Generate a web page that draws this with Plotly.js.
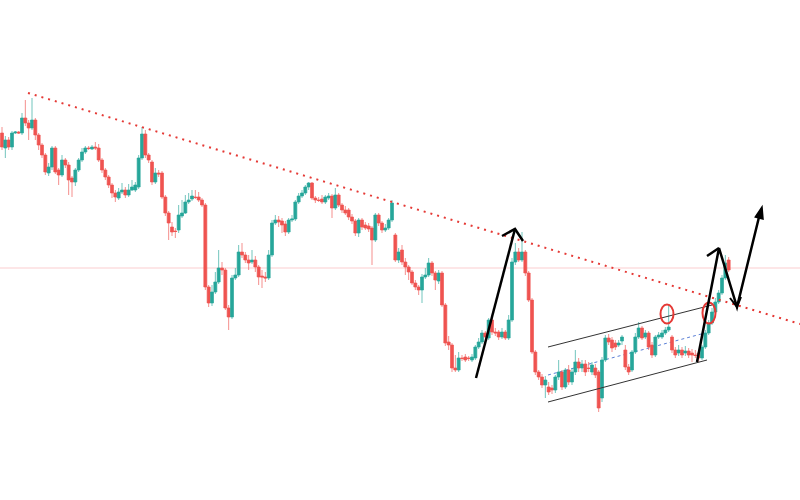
<!DOCTYPE html>
<html>
<head>
<meta charset="utf-8">
<script src="https://cdn.plot.ly/plotly-3.0.1.min.js"></script>
<style>html,body{margin:0;padding:0;background:#fff;}#chart{width:800px;height:500px;}</style>
</head>
<body>
<div id="chart"></div>
<script>
// Candle values (price units)
const openP = [367,352,360,353,367,368,367,382,377,372,380,365,355,345,327,333,352,330,325,340,335,322,318,330,340,348,352,351,353,352,340,330,323,315,307,302,308,310,305,310,310,313,342,366,345,338,318,327,327,303,287,273,269,270,284,287,298,301,303,303,300,295,213,197,208,218,232,230,192,183,222,225,248,245,240,238,240,233,224,223,222,245,277,280,279,276,268,280,281,298,304,307,313,317,302,300,301,298,302,304,292,305,295,290,290,283,279,267,280,275,274,272,260,285,277,270,272,280,265,240,250,238,233,228,217,213,210,223,225,237,227,219,227,195,158,155,132,130,142,143,142,140,142,153,158,167,162,180,168,168,163,168,162,180,238,248,240,248,227,200,148,128,123,115,113,112,110,123,128,113,130,118,128,138,132,136,132,128,132,128,102,140,162,160,157,155,159,150,133,130,148,163,172,163,167,155,145,163,163,167,170,163,150,147,150,147,149,147,145,147,142,153,167,177,188,198,207,222,240];
const closeP = [353,360,353,367,368,367,382,377,372,380,365,355,345,328,333,352,328,325,340,335,320,318,330,340,348,352,351.5,353,352,340,330,323,315,307,303,308,310,305,310,313,315,342,366,345,340,318,327,326,303,287,277,268,268.5,285,287,298,300,304,302.5,300,295,213,197,208,218,232,230,192,183,222,225,248,245,240,237,240,233,223,223,222,245,277,280,278,275,268,280,281,298,304,307,313,317,302,300,299.5,298,303,304,292,305,295,290,287,283,279,267,280,273,272,271,260,285,277,270,272,280,297,240,248,238,233,228,217,213,210,223,225,237,227,220,227,195,157,155,132,130,142,141.5,140,141.5,143,153,158,167,163,180,168,167,163,168,162,180,238,248,240,248,227,200,148,128,123,115,120,108,110,123,128,113,130,118,128,138,132,136,128,131.5,135,125,92,140,162,158,152,153,157,163,133,128,148,163,172,162,167,153,145,163,165,167,170,173,150,145,150,145,149,145,145,144.5,142,153,167,177,188,198,207,222,237,230];
const highP = [373,364,363,369,369,369,387,400,380,402,382,367,357,347,337,354,354,332,345,342,338,324,332,342,352,354,354,355,358,356,342,332,325,317,310,312,317,313,316,320,318,345,373,370,347,340,332,330,329,305,289,278,272,295,300,305,307,310,310,308,302,297,215,215,228,250,238,232,195,225,232,255,257,248,245,250,244,235,230,228,250,280,285,284,282,279,282,285,300,307,310,315,318,318,304,303,305,305,307,306,312,307,297,294,292,286,281,282,282,278,277,274,287,287,279,276,282,300,267,252,255,242,235,230,220,215,226,232,242,239,229,230,229,197,164,157,145,148,145,146,144,146,155,162,170,169,182,182,172,170,172,170,185,242,257,252,268,250,229,202,150,130,126,124,118,115,125,140,130,132,135,132,150,142,140,140,138,138,136,130,143,165,166,163,160,160,165,155,136,150,167,178,174,170,169,158,165,168,170,173,195,165,153,155,153,154,152,151,150,150,155,170,180,192,202,210,225,245,243];
const lowP = [350,342,350,350,366,366,365,374,360,370,360,350,342,325,324,330,326,315,323,332,305,303,314,328,338,346,350,350,350,338,327,320,312,302,298,300,306,302,303,309,308,311,340,342,337,315,316,323,301,284,260,264,262,267,282,286,296,299,301,298,293,210,193,194,206,216,225,190,170,181,220,223,242,237,230,236,228,215,212,218,220,243,275,273,267,264,266,278,279,296,302,305,310,300,297,298,296,296,300,282,290,293,287,285,280,276,264,263,270,270,268,235,258,274,267,268,270,278,238,237,235,225,220,215,210,205,197,221,223,224,210,216,193,154,150,128,128,128,139,138,139,138,140,151,156,160,160,165,164,160,161,160,160,178,235,238,238,224,198,146,125,120,112,102,105,106,107,120,110,111,115,115,125,128,128,124,128,125,122,88,98,138,155,148,150,153,155,130,125,128,146,161,160,161,150,142,143,161,161,165,168,147,142,144,142,144,142,138,142,138,140,151,165,175,186,196,205,220,228];
const candleIdx = openP.map((_, i) => i);

// Drawn annotations (data coordinates: candle index, price)
const trendLine = {x: [7.8, 239.4], y: [407, 176]};
const levelPrice = 232;
const channelUpper = {x: [163.8, 213.0], y: [153, 195]};
const channelLower = {x: [163.8, 211.5], y: [98, 140]};
const channelMid = {x: [163.8, 210.9], y: [125, 167]};
const circles = [
  {x0: 197.55, x1: 201.45, y0: 176.5, y1: 195.5},
  {x0: 210.15, x1: 214.05, y0: 176.5, y1: 197.5}
];
const arrow1 = [[142.2,122],[153.9,271]];
const arrow1Head = [[150,264],[153.9,271],[156.3,259]];
const arrow2 = [[208.5,138],[215.1,252],[220.5,193],[227.4,287]];
const arrow2Head = [[211.5,244],[215.1,252]];
const arrow2Down = [[218.4,202],[220.5,193],[221.7,203]];
const arrow2Top = [[226.0,283],[228.0,293],[228.3,281]];

function path(pts, close) {
  return pts.map((p, i) => (i ? 'L' : 'M') + p[0] + ',' + p[1]).join(' ') + (close ? ' Z' : '');
}

const trace = {
  type: 'candlestick',
  x: candleIdx, open: openP, high: highP, low: lowP, close: closeP,
  increasing: {line: {color: 'rgba(38,166,154,0.65)', width: 1}, fillcolor: '#26a69a'},
  decreasing: {line: {color: 'rgba(239,83,80,0.65)', width: 1}, fillcolor: '#ef5350'},
  whiskerwidth: 0,
  hoverinfo: 'none',
  showlegend: false
};

const black = '#000000';
const shapes = [
  {type: 'line', xref: 'paper', x0: 0, x1: 1, yref: 'y', y0: levelPrice, y1: levelPrice,
   line: {color: 'rgba(242,54,69,0.25)', width: 1}, layer: 'below'},
  {type: 'line', xref: 'x', yref: 'y', x0: channelMid.x[0], x1: channelMid.x[1], y0: channelMid.y[0], y1: channelMid.y[1],
   line: {color: '#5b7fd6', width: 1, dash: '3px,3px'}, layer: 'below'},
  {type: 'line', xref: 'x', yref: 'y', x0: trendLine.x[0], x1: trendLine.x[1], y0: trendLine.y[0], y1: trendLine.y[1],
   line: {color: '#e53935', width: 2, dash: '2px,5px'}},
  {type: 'line', xref: 'x', yref: 'y', x0: channelUpper.x[0], x1: channelUpper.x[1], y0: channelUpper.y[0], y1: channelUpper.y[1],
   line: {color: '#333333', width: 1}},
  {type: 'line', xref: 'x', yref: 'y', x0: channelLower.x[0], x1: channelLower.x[1], y0: channelLower.y[0], y1: channelLower.y[1],
   line: {color: '#333333', width: 1}},
  ...circles.map(c => ({type: 'circle', xref: 'x', yref: 'y', x0: c.x0, x1: c.x1, y0: c.y0, y1: c.y1,
   line: {color: '#e53935', width: 2}})),
  {type: 'path', xref: 'x', yref: 'y', path: path(arrow1), line: {color: black, width: 2.5}},
  {type: 'path', xref: 'x', yref: 'y', path: path(arrow1Head), line: {color: black, width: 2.5}},
  {type: 'path', xref: 'x', yref: 'y', path: path(arrow2), line: {color: black, width: 2.5}},
  {type: 'path', xref: 'x', yref: 'y', path: path(arrow2Head), line: {color: black, width: 2.5}},
  {type: 'path', xref: 'x', yref: 'y', path: path(arrow2Down), line: {color: black, width: 2}},
  {type: 'path', xref: 'x', yref: 'y', path: path(arrow2Top, true), fillcolor: black, line: {color: black, width: 1.5}}
];

const layout = {
  width: 800, height: 500,
  margin: {l: 0, r: 0, t: 0, b: 0},
  paper_bgcolor: '#ffffff', plot_bgcolor: '#ffffff',
  boxgap: 0.1,
  boxgroupgap: 0,
  xaxis: {range: [-0.6, 239.4], visible: false, showgrid: false, zeroline: false, rangeslider: {visible: false}, fixedrange: true},
  yaxis: {range: [0, 500], visible: false, showgrid: false, zeroline: false, fixedrange: true},
  shapes: shapes,
  showlegend: false
};

Plotly.newPlot('chart', [trace], layout, {displayModeBar: false, staticPlot: true});
</script>
</body>
</html>
